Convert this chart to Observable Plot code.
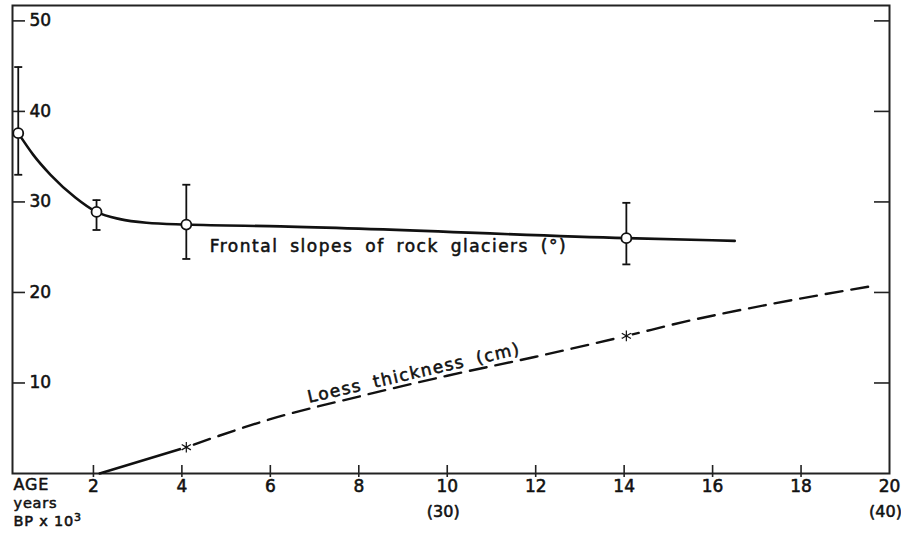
<!DOCTYPE html>
<html>
<head>
<meta charset="utf-8">
<script src="https://cdn.jsdelivr.net/npm/d3@7"></script>
<script src="https://cdn.jsdelivr.net/npm/@observablehq/plot@0.6"></script>
<style>
  html, body { margin: 0; padding: 0; background: #fff; }
  svg { display: block; }
</style>
</head>
<body>
<div id="chart"></div>
<script>
// Frontal slopes of rock glaciers (°): measured points with error bars
const slopeAge = [0.3, 2.07, 4.1, 14.05];
const slopeVal = [37.6, 28.9, 27.5, 26.0];
const slopeLo  = [33.0, 26.9, 23.7, 23.1];
const slopeHi  = [44.9, 30.2, 31.9, 29.9];
// fitted curve through the slope points
const slopeCurveAge = [0.3, 0.64, 1.03, 1.59, 2.07, 2.6, 3.2, 4.1, 6.23, 14.05, 16.5];
const slopeCurveVal = [37.6, 35.2, 33.0, 30.5, 28.9, 28.1, 27.7, 27.5, 27.3, 26.0, 25.7];
// Loess thickness (cm)
const loessAge = [2.14, 4.1, 6.0, 8.0, 10.0, 12.0, 14.05, 15.4, 17.3, 19.6];
const loessVal = [0, 2.9, 6.0, 8.5, 10.8, 12.9, 15.2, 16.8, 18.7, 20.7];
const loessPtAge = [4.1, 14.05];
const loessPtVal = [2.9, 15.2];
// axes
const xTicks = [2, 4, 6, 8, 10, 12, 14, 16, 18, 20];
const xTickLabels = ["2", "4", "6", "8", "10", "12", "14", "16", "18", "20"];
const xSubTicks = [10, 20];
const xSubLabels = ["(30)", "(40)"];
const yTicks = [10, 20, 30, 40, 50];
const yTickLabels = ["10", "20", "30", "40", "50"];
const ageLabel = ["AGE", "years", "BP x 10"];
const ageExponent = "3";
const slopeLabel = "Frontal slopes of rock glaciers (°)";
const loessLabel = "Loess thickness (cm)";
const slopeLabelPos = [8.67, 25.1];
const loessLabelPos = [9.25, 11.1];

const W = 901, H = 537, mL = 12, mR = 12, mT = 5, mB = 64;
const frameW = W - mL - mR, frameH = H - mT - mB;
const ink = "#111";
const font = "DejaVu Sans";
const thick = {fill: ink, stroke: ink, strokeWidth: 0.55};

const pts = slopeAge.map((a, i) => ({age: a, v: slopeVal[i], lo: slopeLo[i], hi: slopeHi[i]}));
const curve = slopeCurveAge.map((a, i) => ({age: a, v: slopeCurveVal[i]}));
const loess = loessAge.map((a, i) => ({age: a, v: loessVal[i], i}));
const loessPts = loessPtAge.map((a, i) => ({age: a, v: loessPtVal[i]}));

const cap = {
  draw(ctx, size) {
    const r = Math.sqrt(size / Math.PI);
    ctx.moveTo(-r, 0); ctx.lineTo(r, 0);
  }
};

const chart = Plot.plot({
  width: W, height: H,
  marginLeft: mL, marginRight: mR, marginTop: mT, marginBottom: mB,
  style: {fontFamily: font, background: "#fff", color: ink},
  x: {domain: [0.17, 20], axis: null},
  y: {domain: [0, 51.7], axis: null},
  marks: [
    Plot.frame({stroke: "#222", strokeWidth: 2}),
    // left ticks (inward) and labels inside the frame
    Plot.tickY(yTicks, {y: d => d, insetRight: frameW - 13, stroke: "#222", strokeWidth: 1.6}),
    Plot.tickY(yTicks, {y: d => d, insetLeft: frameW - 15, stroke: "#222", strokeWidth: 1.6}),
    Plot.text(yTicks, {y: d => d, text: (d, i) => yTickLabels[i], frameAnchor: "left", dx: 17, textAnchor: "start", fontSize: 17, ...thick}),
    // bottom ticks crossing the axis
    Plot.tickX(xTicks.slice(0, -1), {x: d => d, insetTop: frameH - 12, dy: 4, stroke: "#222", strokeWidth: 1.6}),
    Plot.text(xTicks, {x: d => d, text: (d, i) => xTickLabels[i], frameAnchor: "bottom", dy: 18, fontSize: 17, ...thick}),
    Plot.text(xSubTicks, {x: d => d, text: (d, i) => xSubLabels[i], frameAnchor: "bottom", dy: 43, dx: (-4), fontSize: 16, ...thick}),
    Plot.text([ageLabel[0]], {frameAnchor: "bottom-left", dx: 1, dy: 16, textAnchor: "start", fontSize: 16, ...thick}),
    Plot.text([ageLabel[1]], {frameAnchor: "bottom-left", dx: 1, dy: 34, textAnchor: "start", fontSize: 14.5, ...thick}),
    Plot.text([ageLabel[2]], {frameAnchor: "bottom-left", dx: 1, dy: 52, textAnchor: "start", fontSize: 14.5, className: "bp", ...thick}),
    // rock glacier slope curve
    Plot.line(curve, {x: "age", y: "v", curve: "monotone-x", stroke: ink, strokeWidth: 2.6}),
    Plot.ruleX(pts, {x: "age", y1: "lo", y2: "hi", stroke: ink, strokeWidth: 1.8}),
    Plot.dot(pts, {x: "age", y: "lo", symbol: cap, r: 4, stroke: ink, strokeWidth: 1.8}),
    Plot.dot(pts, {x: "age", y: "hi", symbol: cap, r: 4, stroke: ink, strokeWidth: 1.8}),
    Plot.dot(pts, {x: "age", y: "v", r: 5, fill: "#fff", stroke: ink, strokeWidth: 1.8}),
    // loess thickness
    Plot.line(loess.filter(d => d.i <= 1), {x: "age", y: "v", stroke: ink, strokeWidth: 2.4}),
    Plot.line(loess.filter(d => d.i >= 1), {x: "age", y: "v", curve: "monotone-x", stroke: ink, strokeWidth: 2.4, strokeDasharray: "17,9", strokeDashoffset: -8}),
    Plot.dot(loessPts, {x: "age", y: "v", symbol: "asterisk", r: 5, fill: "#fff", stroke: "#fff", strokeWidth: 6}),
    Plot.dot(loessPts, {x: "age", y: "v", symbol: "asterisk", r: 5, stroke: ink, strokeWidth: 1.2}),
    // curve labels
    Plot.text([slopeLabel], {x: slopeLabelPos[0], y: slopeLabelPos[1], text: d => d, fontSize: 17, textAnchor: "middle", className: "lbl", ...thick}),
    Plot.text([loessLabel], {x: loessLabelPos[0], y: loessLabelPos[1], text: d => d, fontSize: 17, textAnchor: "middle", rotate: -13, className: "lbl", ...thick})
  ]
});

d3.select(chart).selectAll(".lbl text").style("letter-spacing", "1.5px").style("word-spacing", "5px");
d3.select(chart).selectAll("text").filter(function() { return /[A-Za-z]/.test(this.textContent) && !this.closest(".lbl"); }).style("letter-spacing", "0.8px");
d3.select(chart).selectAll(".bp text").append("tspan").attr("dy", "-0.45em").attr("font-size", 11).text(ageExponent);
document.getElementById("chart").appendChild(chart);
</script>
</body>
</html>
